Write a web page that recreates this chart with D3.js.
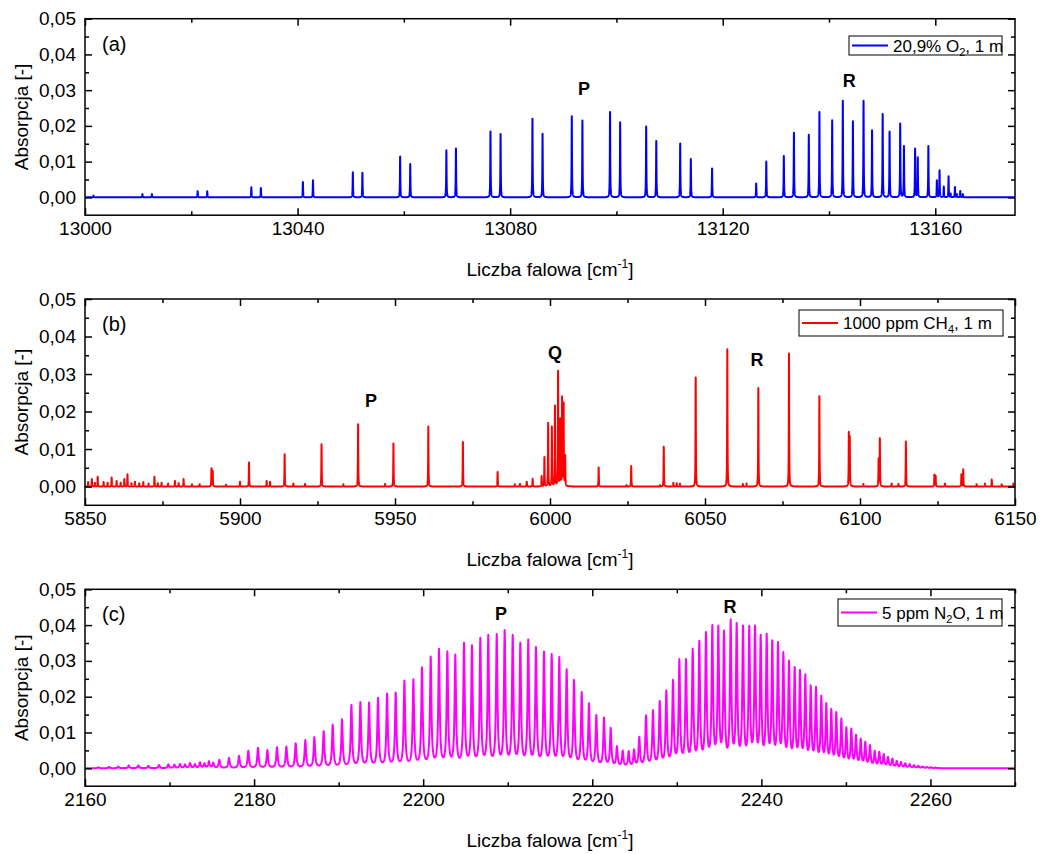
<!DOCTYPE html>
<html>
<head>
<meta charset="utf-8">
<script src="https://cdn.jsdelivr.net/npm/d3@7"></script>
<style>
  body { margin: 0; background: #fff; }
  svg { font-family: "Liberation Sans", Arial, sans-serif; }
</style>
</head>
<body>
<svg id="chart" width="1043" height="854"></svg>
<script>
// ---- (a) O2 A-band: line centre [cm-1] and peak absorbance ----
const o2Pos = [13001.6, 13010.8, 13012.6, 13021.2, 13023.0, 13031.3, 13033.1, 13041.0, 13042.9,
  13050.4, 13052.2, 13059.3, 13061.2, 13068.0, 13069.8, 13076.3, 13078.2, 13084.2, 13086.1,
  13091.6, 13093.6, 13098.8, 13100.7, 13105.6, 13107.5, 13112.0, 13114.0, 13118.0,
  13126.3, 13128.2, 13131.5, 13133.4, 13136.2, 13138.2, 13140.6, 13142.6, 13144.5, 13146.5,
  13148.1, 13150.1, 13151.4, 13153.4, 13154.1, 13156.2, 13156.7, 13158.7, 13160.3, 13160.8,
  13161.6, 13162.5, 13162.9, 13163.7, 13164.1, 13164.7, 13165.2];
const o2Abs = [0.0005, 0.0009, 0.0009, 0.0017, 0.0017, 0.0028, 0.0026, 0.0043, 0.0048,
  0.0070, 0.0069, 0.0114, 0.0093, 0.0132, 0.0137, 0.0184, 0.0177, 0.0220, 0.0178,
  0.0227, 0.0215, 0.0239, 0.0210, 0.0198, 0.0158, 0.0151, 0.0107, 0.0081,
  0.0039, 0.0100, 0.0116, 0.0181, 0.0175, 0.0239, 0.0216, 0.0270, 0.0213, 0.0270,
  0.0188, 0.0233, 0.0184, 0.0207, 0.0144, 0.0137, 0.0112, 0.0144, 0.0048, 0.0076,
  0.0030, 0.0059, 0.0011, 0.0029, 0.0009, 0.0018, 0.0009];

// ---- (b) CH4 2nu3 band ----
const ch4Pos = [5851.0, 5852.2, 5853.2, 5854.1, 5856.0, 5857.3, 5858.6, 5860.2, 5861.5, 5862.7,
  5863.7, 5865.0, 5866.1, 5867.5, 5868.8, 5870.5, 5872.4, 5873.5, 5874.7, 5876.8, 5879.0,
  5880.2, 5881.8, 5884.5, 5887.0, 5890.8, 5891.2, 5895.5, 5900.0, 5902.9, 5908.6, 5909.7,
  5914.4, 5917.2, 5921.0, 5926.3, 5933.3, 5938.1, 5946.8, 5949.5, 5960.75, 5971.9, 5983.1,
  5988.7, 5990.3, 5992.5, 5994.4, 5997.3, 5998.2, 5999.4, 6000.6, 6001.6, 6002.6, 6003.3,
  6003.9, 6004.4, 6004.9, 6015.7, 6024.7, 6026.2, 6035.5, 6036.7, 6039.8, 6040.9, 6041.9,
  6047.0, 6057.2, 6062.2, 6063.4, 6067.2, 6077.1, 6086.9, 6096.4, 6096.7, 6101.1, 6106.0,
  6106.4, 6110.2, 6112.4, 6114.8, 6124.0, 6124.4, 6127.4, 6132.7, 6133.3, 6137.6, 6140.3,
  6142.5, 6145.7, 6149.5];
const ch4Abs = [0.0012, 0.0020, 0.0010, 0.0026, 0.0012, 0.0010, 0.0024, 0.0015, 0.0010, 0.0020,
  0.0033, 0.0009, 0.0013, 0.0009, 0.0012, 0.0008, 0.0026, 0.0009, 0.0010, 0.0008, 0.0015,
  0.0009, 0.0020, 0.0006, 0.0006, 0.0049, 0.0042, 0.0005, 0.0013, 0.0064, 0.0015, 0.0013,
  0.0086, 0.0008, 0.0007, 0.0113, 0.0006, 0.0166, 0.0007, 0.0115, 0.0160, 0.0119, 0.0039,
  0.0006, 0.0007, 0.0013, 0.0021, 0.0028, 0.0079, 0.0170, 0.0160, 0.0216, 0.0309, 0.0182,
  0.0241, 0.0224, 0.0084, 0.0051, 0.0004, 0.0055, 0.0004, 0.0106, 0.0010, 0.0009, 0.0008,
  0.0291, 0.0366, 0.0007, 0.0008, 0.0263, 0.0355, 0.0241, 0.0146, 0.0135, 0.0007, 0.0075,
  0.0129, 0.0008, 0.0007, 0.0120, 0.0032, 0.0029, 0.0008, 0.0033, 0.0046, 0.0006, 0.0008,
  0.0019, 0.0006, 0.0008];

// ---- (c) N2O nu3 band ----
const n2oPos = [2161.58, 2162.84, 2163.94, 2165.17, 2166.31, 2167.49, 2168.75, 2169.86, 2170.57,
  2171.24, 2171.83, 2172.42, 2173.01, 2173.60, 2174.12, 2174.67, 2175.18, 2175.89, 2177.03,
  2178.22, 2179.32, 2180.46, 2181.57, 2182.71, 2183.82, 2184.92, 2186.06, 2187.13, 2188.23,
  2189.30, 2190.40, 2191.51, 2192.57, 2193.60, 2194.66, 2195.73, 2196.75, 2197.78, 2198.84,
  2199.86, 2200.89, 2201.87, 2202.86, 2203.80, 2204.83, 2205.77, 2206.76, 2207.70, 2208.70,
  2209.64, 2210.59, 2211.49, 2212.43, 2213.34, 2214.29, 2215.20, 2216.10, 2216.97, 2217.84,
  2218.75, 2219.61, 2220.48, 2221.39, 2222.18, 2222.92, 2223.60, 2224.31, 2224.94, 2225.56,
  2226.36, 2227.18, 2227.98, 2228.76, 2229.55, 2230.30, 2231.09, 2231.88, 2232.66, 2233.45,
  2234.20, 2234.91, 2235.58, 2236.37, 2237.08, 2237.83, 2238.57, 2239.25, 2239.92, 2240.63,
  2241.29, 2241.97, 2242.60, 2243.27, 2243.94, 2244.57, 2245.20, 2245.84, 2246.46, 2247.09,
  2247.68, 2248.27, 2248.86, 2249.46, 2250.05, 2250.64, 2251.19, 2251.75, 2252.29, 2252.85,
  2253.41, 2253.95, 2254.47, 2254.98, 2255.49, 2256.01, 2256.52, 2257.02, 2257.54, 2258.05,
  2258.56, 2259.08, 2259.59, 2260.10, 2260.62];
const n2oAbs = [0.0003, 0.0004, 0.0005, 0.0008, 0.0008, 0.0007, 0.0009, 0.0011, 0.0010,
  0.0012, 0.0011, 0.0015, 0.0012, 0.0017, 0.0014, 0.0020, 0.0016, 0.0024, 0.0029,
  0.0035, 0.0049, 0.0057, 0.0051, 0.0059, 0.0061, 0.0070, 0.0079, 0.0087, 0.0104,
  0.0122, 0.0137, 0.0177, 0.0185, 0.0184, 0.0197, 0.0209, 0.0212, 0.0245, 0.0249,
  0.0282, 0.0312, 0.0334, 0.0327, 0.0318, 0.0351, 0.0344, 0.0365, 0.0373, 0.0375,
  0.0386, 0.0373, 0.0351, 0.0360, 0.0339, 0.0326, 0.0319, 0.0311, 0.0277, 0.0247,
  0.0213, 0.0182, 0.0149, 0.0142, 0.0113, 0.0062, 0.0050, 0.0048, 0.0053, 0.0088,
  0.0148, 0.0162, 0.0188, 0.0218, 0.0247, 0.0305, 0.0305, 0.0334, 0.0356, 0.0381,
  0.0400, 0.0399, 0.0385, 0.0416, 0.0406, 0.0399, 0.0398, 0.0399, 0.0373, 0.0376,
  0.0358, 0.0353, 0.0325, 0.0301, 0.0283, 0.0275, 0.0263, 0.0232, 0.0228, 0.0203,
  0.0182, 0.0166, 0.0157, 0.0139, 0.0115, 0.0111, 0.0094, 0.0083, 0.0074, 0.0065,
  0.0049, 0.0046, 0.0040, 0.0032, 0.0027, 0.0021, 0.0018, 0.0014, 0.0012, 0.0009,
  0.0007, 0.0005, 0.0004, 0.0003, 0.0002];

// ---- axis ticks ----
const xTicksA = [13000, 13040, 13080, 13120, 13160];
const xTicksB = [5850, 5900, 5950, 6000, 6050, 6100, 6150];
const xTicksC = [2160, 2180, 2200, 2220, 2240, 2260];
const yTicks = [0, 0.01, 0.02, 0.03, 0.04, 0.05];

const panels = [
  { tag: "(a)", pos: o2Pos, abs: o2Abs, gamma: 0.04, color: "#0000ff",
    xDomain: [13000, 13175], ticks: xTicksA, minorStep: 20,
    top: 18.7, bottom: 215.2, legend: ["20,9% O", "2", ", 1 m"], legendBox: [849, 36, 153, 19],
    branches: [["P", 13093.9, 95], ["R", 13143.8, 87]] },
  { tag: "(b)", pos: ch4Pos, abs: ch4Abs, gamma: 0.06, color: "#ff0000",
    xDomain: [5850, 6150], ticks: xTicksB, minorStep: 25,
    top: 299, bottom: 505.3, legend: ["1000 ppm CH", "4", ", 1 m"], legendBox: [799, 310, 204, 26],
    branches: [["P", 5942.3, 407], ["Q", 6001.6, 359], ["R", 6066.8, 366]] },
  { tag: "(c)", pos: n2oPos, abs: n2oAbs, gamma: 0.10, color: "#ff00ff",
    xDomain: [2160, 2270], ticks: xTicksC, minorStep: 10,
    top: 589.3, bottom: 786.2, legend: ["5 ppm N", "2", "O, 1 m"], legendBox: [838, 599, 164, 27],
    branches: [["P", 2209.2, 620], ["R", 2236.3, 613]] }
];

const left = 85, right = 1015;
const svg = d3.select("#chart");
const fmt = v => d3.format(".2f")(v).replace(".", ",");

// Sum of Lorentzian lines; strengths are adjusted so that the summed
// profile reaches each listed peak absorbance at its line centre.
function spectrum(pos, abs, gamma, x0, x1) {
  const g2 = gamma * gamma;
  const L = d => g2 / (d * d + g2);
  let a = abs.slice();
  for (let it = 0; it < 80; it++) {
    const model = pos.map(p => d3.sum(pos, (q, j) => a[j] * L(p - q)));
    a = a.map((v, i) => Math.max(0, v + 0.7 * (abs[i] - model[i])));
  }
  const step = gamma / 4;
  const xs = d3.range(x0, x1 + step / 2, step).concat(pos).sort(d3.ascending);
  return xs.map(x => [x, d3.sum(pos, (q, j) => a[j] * L(x - q))]);
}

panels.forEach((p, k) => {
  const x = d3.scaleLinear().domain(p.xDomain).range([left, right]);
  const y = d3.scaleLinear().domain([-0.005, 0.05]).range([p.bottom, p.top]);
  const g = svg.append("g");

  const clipId = "clip" + k;
  svg.append("clipPath").attr("id", clipId).append("rect")
    .attr("x", left).attr("y", p.top).attr("width", right - left).attr("height", p.bottom - p.top);

  const data = spectrum(p.pos, p.abs, p.gamma, p.xDomain[0], p.xDomain[1]);
  g.append("path")
    .datum(data)
    .attr("clip-path", `url(#${clipId})`)
    .attr("fill", "none")
    .attr("stroke", p.color)
    .attr("stroke-width", 2)
    .attr("stroke-linejoin", "round")
    .attr("d", d3.line().x(d => x(d[0])).y(d => y(d[1])));

  const minor = d3.range(p.xDomain[0], p.xDomain[1] + 1e-6, p.minorStep).filter(v => !p.ticks.includes(v));
  const yMinor = [0.005, 0.015, 0.025, 0.035, 0.045];

  // bottom axis with labels, inward ticks
  g.append("g").attr("transform", `translate(0,${p.bottom})`)
    .call(d3.axisBottom(x).tickValues(p.ticks).tickSizeInner(-7).tickSizeOuter(0).tickPadding(6).tickFormat(d3.format("d")));
  g.append("g").attr("transform", `translate(0,${p.bottom})`)
    .call(d3.axisBottom(x).tickValues(minor).tickSizeInner(-4).tickSizeOuter(0).tickFormat(""));
  // top mirror
  g.append("g").attr("transform", `translate(0,${p.top})`)
    .call(d3.axisTop(x).tickValues(p.ticks).tickSizeInner(-7).tickSizeOuter(0).tickFormat(""));
  g.append("g").attr("transform", `translate(0,${p.top})`)
    .call(d3.axisTop(x).tickValues(minor).tickSizeInner(-4).tickSizeOuter(0).tickFormat(""));
  // left axis with labels
  g.append("g").attr("transform", `translate(${left},0)`)
    .call(d3.axisLeft(y).tickValues(yTicks).tickSizeInner(-7).tickSizeOuter(0).tickPadding(9).tickFormat(fmt));
  g.append("g").attr("transform", `translate(${left},0)`)
    .call(d3.axisLeft(y).tickValues(yMinor).tickSizeInner(-4).tickSizeOuter(0).tickFormat(""));
  // right mirror
  g.append("g").attr("transform", `translate(${right},0)`)
    .call(d3.axisRight(y).tickValues(yTicks).tickSizeInner(-7).tickSizeOuter(0).tickFormat(""));
  g.append("g").attr("transform", `translate(${right},0)`)
    .call(d3.axisRight(y).tickValues(yMinor).tickSizeInner(-4).tickSizeOuter(0).tickFormat(""));

  g.selectAll(".domain").remove();
  g.selectAll(".tick line").attr("stroke", "#000").attr("stroke-width", 1.5);
  g.selectAll(".tick text").attr("font-size", 19).attr("fill", "#000")
    .attr("font-family", "Liberation Sans, Arial, sans-serif");

  // frame
  g.append("rect").attr("x", left).attr("y", p.top)
    .attr("width", right - left).attr("height", p.bottom - p.top)
    .attr("fill", "none").attr("stroke", "#000").attr("stroke-width", 1.5);

  // axis titles
  g.append("text")
    .attr("transform", `translate(28,${(p.top + p.bottom) / 2}) rotate(-90)`)
    .attr("text-anchor", "middle").attr("font-size", 19).text("Absorpcja [-]");
  const xt = g.append("text").attr("x", (left + right) / 2).attr("y", p.bottom + 61)
    .attr("text-anchor", "middle").attr("font-size", 19);
  xt.append("tspan").text("Liczba falowa [cm");
  xt.append("tspan").attr("font-size", 12).attr("dy", -8).text("-1");
  xt.append("tspan").attr("dy", 8).text("]");

  // panel tag
  g.append("text").attr("x", 102).attr("y", p.top + 32).attr("font-size", 20).text(p.tag);

  // branch labels
  p.branches.forEach(([t, wn, yy]) => {
    g.append("text").attr("x", x(wn)).attr("y", yy).attr("text-anchor", "middle")
      .attr("font-size", 18).attr("font-weight", "bold").text(t);
  });

  // legend
  const [bx, by, bw, bh] = p.legendBox;
  g.append("rect").attr("x", bx).attr("y", by).attr("width", bw).attr("height", bh)
    .attr("fill", "#fff").attr("stroke", "#000").attr("stroke-width", 1);
  g.append("line").attr("x1", bx + 3).attr("x2", bx + 39).attr("y1", by + bh / 2).attr("y2", by + bh / 2)
    .attr("stroke", p.color).attr("stroke-width", 2);
  const lt = g.append("text").attr("x", bx + 44).attr("y", by + bh / 2 + 6).attr("font-size", 17);
  lt.append("tspan").text(p.legend[0]);
  lt.append("tspan").attr("font-size", 11).attr("dy", 4).text(p.legend[1]);
  lt.append("tspan").attr("dy", -4).text(p.legend[2]);
});
</script>
</body>
</html>
